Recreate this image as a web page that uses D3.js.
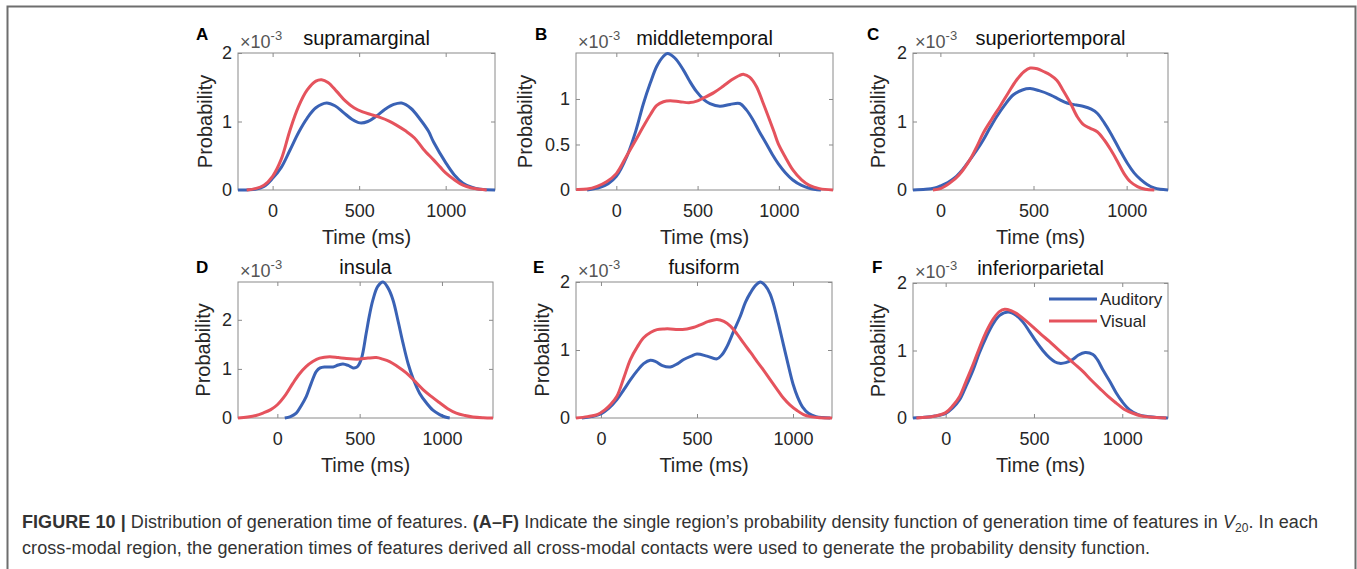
<!DOCTYPE html>
<html>
<head>
<meta charset="utf-8">
<script src="https://cdn.jsdelivr.net/npm/d3@7"></script>
<style>
  body { margin: 0; background: #fff; }
  text { font-family: "Liberation Sans", Arial, Helvetica, sans-serif; }
</style>
</head>
<body>
<div id="chart"></div>
<script>
// density values in units of 1e-3 as [time ms, value]
const supramarginalAud = [[-200,0],[-100,0.01],[-50,0.05],[0,0.17],[50,0.33],[100,0.58],[150,0.84],[200,1.05],[250,1.2],[312,1.27],[360,1.23],[410,1.13],[460,1.03],[505,0.98],[550,1.0],[600,1.08],[650,1.18],[700,1.25],[745,1.27],[800,1.19],[850,1.04],[900,0.86],[930,0.7],[1000,0.4],[1050,0.22],[1100,0.1],[1150,0.04],[1200,0.01],[1285,0]];
const supramarginalVis = [[-150,0],[-100,0.02],[-50,0.07],[0,0.2],[50,0.45],[100,0.87],[150,1.22],[200,1.46],[250,1.59],[283,1.61],[320,1.57],[370,1.44],[420,1.3],[470,1.2],[520,1.14],[570,1.1],[620,1.06],[670,1.01],[720,0.94],[770,0.86],[820,0.76],[870,0.6],[930,0.44],[970,0.33],[1000,0.25],[1050,0.15],[1100,0.07],[1150,0.03],[1200,0.01],[1237,0]];

const middletemporalAud = [[-180,0],[-100,0.03],[-50,0.07],[0,0.15],[65,0.37],[120,0.65],[167,0.95],[210,1.18],[249,1.36],[290,1.47],[314,1.5],[360,1.45],[412,1.32],[450,1.2],[494,1.08],[540,0.99],[576,0.95],[637,0.92],[700,0.94],[759,0.95],[800,0.88],[841,0.77],[880,0.64],[922,0.51],[960,0.39],[996,0.29],[1040,0.19],[1086,0.11],[1140,0.05],[1188,0.02],[1259,0]];
const middletemporalVis = [[-247,0.005],[-180,0.01],[-118,0.04],[-60,0.09],[0,0.18],[65,0.38],[120,0.55],[167,0.7],[210,0.83],[249,0.93],[290,0.97],[331,0.98],[390,0.97],[453,0.96],[500,0.98],[535,1.01],[600,1.07],[657,1.14],[710,1.21],[759,1.26],[785,1.27],[820,1.24],[861,1.14],[900,0.97],[943,0.77],[970,0.64],[996,0.51],[1040,0.36],[1086,0.22],[1140,0.11],[1188,0.05],[1250,0.015],[1333,0]];

const superiortemporalAud = [[-147,0],[-80,0.01],[-30,0.03],[0,0.06],[40,0.11],[86,0.2],[120,0.3],[158,0.44],[195,0.58],[230,0.73],[265,0.9],[302,1.07],[345,1.24],[392,1.39],[440,1.46],[482,1.48],[530,1.45],[590,1.39],[640,1.32],[680,1.27],[730,1.24],[770,1.22],[810,1.18],[842,1.12],[880,0.98],[914,0.83],[960,0.6],[1004,0.39],[1040,0.25],[1076,0.15],[1110,0.08],[1148,0.03],[1180,0.01],[1222,0]];
const superiortemporalVis = [[-40,0],[0,0.02],[50,0.1],[100,0.22],[158,0.44],[195,0.63],[230,0.83],[275,1.03],[320,1.22],[365,1.42],[410,1.61],[450,1.73],[482,1.78],[520,1.77],[554,1.73],[590,1.68],[626,1.6],[660,1.45],[698,1.27],[735,1.07],[770,0.95],[805,0.9],[842,0.85],[880,0.73],[914,0.59],[950,0.42],[986,0.24],[1020,0.12],[1058,0.05],[1100,0.01],[1148,0]];

const insulaAud = [[45,0],[80,0.03],[115,0.1],[145,0.25],[176,0.44],[205,0.7],[237,0.95],[260,1.02],[290,1.04],[338,1.04],[370,1.08],[399,1.1],[430,1.07],[460,1.02],[485,1.04],[510,1.2],[540,1.73],[560,2.1],[581,2.41],[610,2.68],[642,2.77],[672,2.65],[702,2.41],[735,1.95],[763,1.53],[795,1.1],[824,0.81],[865,0.5],[905,0.31],[945,0.16],[986,0.07],[1020,0.02],[1047,0]];
const insulaVis = [[-239,0],[-180,0.02],[-130,0.05],[-87,0.1],[-40,0.17],[0,0.27],[50,0.47],[95,0.71],[135,0.9],[176,1.05],[215,1.15],[257,1.22],[318,1.25],[370,1.23],[419,1.21],[460,1.2],[500,1.2],[550,1.22],[601,1.23],[640,1.2],[682,1.15],[730,1.05],[783,0.92],[835,0.75],[885,0.58],[935,0.44],[986,0.31],[1035,0.19],[1087,0.1],[1140,0.05],[1188,0.02],[1250,0.005],[1310,0]];

const fusiformAud = [[-99,0],[-50,0.02],[0,0.06],[40,0.14],[83,0.27],[120,0.42],[153,0.56],[190,0.7],[222,0.8],[257,0.85],[285,0.83],[320,0.77],[361,0.75],[400,0.8],[431,0.86],[470,0.91],[500,0.94],[552,0.91],[604,0.87],[630,0.93],[656,1.05],[690,1.27],[726,1.5],[752,1.7],[778,1.84],[805,1.95],[830,2.0],[855,1.95],[880,1.83],[900,1.66],[925,1.38],[950,1.08],[975,0.78],[1000,0.5],[1025,0.3],[1050,0.16],[1080,0.07],[1120,0.02],[1194,0]];
const fusiformVis = [[-130,0],[-70,0.02],[-20,0.05],[20,0.12],[50,0.2],[83,0.32],[120,0.6],[153,0.86],[190,1.05],[222,1.18],[260,1.26],[292,1.3],[330,1.31],[361,1.31],[400,1.3],[448,1.31],[480,1.33],[517,1.37],[560,1.42],[604,1.45],[640,1.42],[674,1.35],[710,1.23],[743,1.1],[780,0.96],[813,0.83],[850,0.69],[882,0.56],[915,0.43],[951,0.29],[985,0.19],[1021,0.11],[1055,0.05],[1090,0.02],[1140,0.005],[1203,0]];

const inferiorparietalAud = [[-185,0],[-120,0.01],[-60,0.03],[0,0.07],[40,0.15],[79,0.27],[115,0.47],[155,0.71],[190,0.96],[230,1.2],[270,1.4],[306,1.52],[353,1.57],[400,1.52],[438,1.42],[475,1.28],[513,1.13],[550,1.0],[589,0.89],[620,0.83],[645,0.81],[680,0.82],[721,0.87],[750,0.93],[790,0.97],[834,0.94],[860,0.86],[891,0.71],[930,0.54],[966,0.37],[1000,0.24],[1042,0.12],[1090,0.05],[1155,0.02],[1258,0]];
const inferiorparietalVis = [[-166,0],[-110,0.01],[-60,0.03],[0,0.08],[40,0.18],[79,0.32],[115,0.54],[155,0.79],[190,1.03],[230,1.28],[270,1.47],[306,1.58],[334,1.61],[370,1.59],[400,1.55],[450,1.45],[494,1.35],[540,1.24],[589,1.13],[635,1.02],[683,0.91],[730,0.8],[777,0.69],[825,0.56],[872,0.44],[920,0.32],[966,0.22],[1010,0.13],[1060,0.07],[1110,0.03],[1155,0.015],[1249,0]];

const letters = ["A", "B", "C", "D", "E", "F"];
const regions = ["supramarginal", "middletemporal", "superiortemporal", "insula", "fusiform", "inferiorparietal"];
const audSeries = [supramarginalAud, middletemporalAud, superiortemporalAud, insulaAud, fusiformAud, inferiorparietalAud];
const visSeries = [supramarginalVis, middletemporalVis, superiortemporalVis, insulaVis, fusiformVis, inferiorparietalVis];
const xLimits = [[-200, 1285], [-248, 1333], [-147, 1222], [-239, 1310], [-130, 1203], [-185, 1259]];
const yLimits = [[0, 2], [0, 1.505], [0, 2], [0, 2.77], [0, 2], [0, 2]];
const xTickValues = [0, 500, 1000];
const yTickValues = [[0, 1, 2], [0, 0.5, 1], [0, 1, 2], [0, 1, 2], [0, 1, 2], [0, 1, 2]];
const seriesNames = ["Auditory", "Visual"];

// layout: axes box [x, y, w, h], letter position, y-label centre x, title shift
const layout = [
    { box: [238, 53, 257, 137], letter: [196, 40], ylab: 205, titleDx: 0 },
    { box: [576, 53, 257, 137], letter: [535, 40], ylab: 525, titleDx: 0 },
    { box: [913, 53, 255, 137], letter: [867, 40], ylab: 878, titleDx: 10 },
    { box: [238, 282, 255, 136], letter: [196, 273], ylab: 203, titleDx: 0 },
    { box: [576, 282, 256, 136], letter: [533, 273], ylab: 542, titleDx: 0 },
    { box: [913, 283, 255, 135], letter: [872, 273], ylab: 878, titleDx: 0 }
];

const colors = ["#3a62b5", "#e5535d"];
const textColor = "#262626";
const boxColor = "#8a8a8a";

const svg = d3.select("#chart")
    .append("svg")
    .attr("width", 1357)
    .attr("height", 569);

// figure frame (open at the bottom)
svg.append("path")
    .attr("d", "M7.5,569 V6.5 H1355.5 V569")
    .attr("fill", "none")
    .attr("stroke", "#6e6e6e")
    .attr("stroke-width", 2);

for (let i = 0; i < regions.length; i++) {
    const [bx, by, bw, bh] = layout[i].box;
    const g = svg.append("g").attr("transform", `translate(${bx}, ${by})`);

    const xScale = d3.scaleLinear().domain(xLimits[i]).range([0, bw]);
    const yScale = d3.scaleLinear().domain(yLimits[i]).range([bh, 0]);

    // ticks (inward, mirrored on top/right)
    const axes = [
        { axis: d3.axisBottom(xScale).tickValues(xTickValues).tickPadding(14), tr: `translate(0, ${bh})`, labels: true },
        { axis: d3.axisTop(xScale).tickValues(xTickValues), tr: "translate(0, 0)", labels: false },
        { axis: d3.axisLeft(yScale).tickValues(yTickValues[i]).tickPadding(6), tr: "translate(0, 0)", labels: true },
        { axis: d3.axisRight(yScale).tickValues(yTickValues[i]), tr: `translate(${bw}, 0)`, labels: false }
    ];
    axes.forEach(function (a) {
        a.axis.tickSizeInner(-4).tickSizeOuter(0);
        a.axis.tickFormat(a.labels ? function (d) { return String(d); } : "");
        const ag = g.append("g")
            .attr("transform", a.tr)
            .call(a.axis);
        ag.select(".domain").remove();
        ag.selectAll("line").attr("stroke", boxColor);
        ag.selectAll("text")
            .attr("font-size", "18px")
            .attr("fill", textColor)
            .attr("font-family", "Liberation Sans, Arial, sans-serif");
    });

    g.append("rect")
        .attr("width", bw)
        .attr("height", bh)
        .attr("fill", "none")
        .attr("stroke", boxColor)
        .attr("stroke-width", 1);

    // density curves
    const line = d3.line()
        .x(function (d) { return xScale(d[0]); })
        .y(function (d) { return yScale(d[1]); })
        .curve(d3.curveCatmullRom.alpha(0.5));

    [audSeries[i], visSeries[i]].forEach(function (s, k) {
        g.append("path")
            .datum(s)
            .attr("d", line)
            .attr("fill", "none")
            .attr("stroke", colors[k])
            .attr("stroke-width", 3)
            .attr("stroke-linejoin", "round");
    });

    // exponent label
    const ex = g.append("text")
        .attr("x", 2)
        .attr("y", -5)
        .attr("font-size", "18px")
        .attr("fill", "#555");
    ex.append("tspan").text("\u00d710");
    ex.append("tspan").attr("dy", -8).attr("font-size", "13px").text("-3");

    // title
    g.append("text")
        .attr("x", bw / 2 + layout[i].titleDx)
        .attr("y", -8)
        .attr("text-anchor", "middle")
        .attr("font-size", "20px")
        .attr("fill", "#111")
        .text(regions[i]);

    // axis labels
    g.append("text")
        .attr("x", bw / 2)
        .attr("y", bh + 54)
        .attr("text-anchor", "middle")
        .attr("font-size", "20px")
        .attr("fill", textColor)
        .text("Time (ms)");

    svg.append("text")
        .attr("transform", `translate(${layout[i].ylab + 7}, ${by + bh / 2}) rotate(-90)`)
        .attr("text-anchor", "middle")
        .attr("font-size", "20px")
        .attr("fill", textColor)
        .text("Probability");

    // panel letter
    svg.append("text")
        .attr("x", layout[i].letter[0])
        .attr("y", layout[i].letter[1])
        .attr("font-size", "17px")
        .attr("font-weight", "bold")
        .attr("fill", "#000")
        .text(letters[i]);

    // legend in last panel
    if (i === regions.length - 1) {
        seriesNames.forEach(function (name, k) {
            const ly = 16 + k * 22;
            g.append("line")
                .attr("x1", 136).attr("x2", 184)
                .attr("y1", ly).attr("y2", ly)
                .attr("stroke", colors[k])
                .attr("stroke-width", 3);
            g.append("text")
                .attr("x", 187)
                .attr("y", ly)
                .attr("dy", "0.35em")
                .attr("font-size", "17px")
                .attr("fill", textColor)
                .text(name);
        });
    }
}

// caption
const cap1 = svg.append("text")
    .attr("x", 22).attr("y", 528)
    .attr("font-size", "18px").attr("fill", "#333")
    .attr("textLength", 1296).attr("lengthAdjust", "spacing");
cap1.append("tspan").attr("font-weight", "bold").text("FIGURE 10 | ");
cap1.append("tspan").text("Distribution of generation time of features. ");
cap1.append("tspan").attr("font-weight", "bold").text("(A\u2013F)");
cap1.append("tspan").text(" Indicate the single region\u2019s probability density function of generation time of features in ");
cap1.append("tspan").attr("font-style", "italic").text("V");
cap1.append("tspan").attr("dy", 4).attr("font-size", "12px").text("20");
cap1.append("tspan").attr("dy", -4).text(". In each");

svg.append("text")
    .attr("x", 22)
    .attr("y", 554)
    .attr("font-size", "18px")
    .attr("fill", "#333")
    .attr("textLength", 1128)
    .attr("lengthAdjust", "spacing")
    .text("cross-modal region, the generation times of features derived all cross-modal contacts were used to generate the probability density function.");
</script>
</body>
</html>
